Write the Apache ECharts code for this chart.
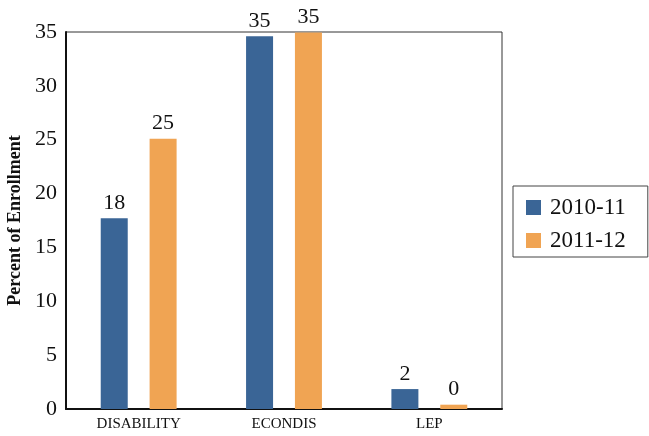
<!DOCTYPE html>
<html>
<head>
<meta charset="utf-8">
<script src="https://cdn.jsdelivr.net/npm/echarts@6/dist/echarts.min.js"></script>
<style>
  html, body { margin: 0; padding: 0; background: #fff; }
  #chart { width: 649px; height: 436px; }
</style>
</head>
<body>
<div id="chart"></div>
<script>
// values
var categories = ['DISABILITY', 'ECONDIS', 'LEP'];
var seriesNames = ['2010-11', '2011-12'];
var values2010 = [17.7, 34.6, 1.85];
var values2011 = [25.1, 34.95, 0.4];
var yTicks = [0, 5, 10, 15, 20, 25, 30, 35];

var serif = '"Liberation Serif", "DejaVu Serif", serif';
var colors = ['#3a6596', '#f0a453'];

function barSeries(name, data, color) {
  return {
    name: name,
    type: 'bar',
    data: data,
    barWidth: 27,
    barGap: '81%',
    itemStyle: { color: color },
    label: {
      show: true,
      position: 'top',
      distance: 4,
      color: '#111',
      fontFamily: serif,
      fontSize: 22,
      formatter: function (p) { return Math.round(p.value) }
    }
  }
}

var chart = echarts.init(document.getElementById('chart'));
chart.setOption({
  animation: false,
  grid: {
    left: 66, top: 32, right: 147, bottom: 27,
    outerBoundsMode: 'none',
    containLabel: false,
    show: true,
    borderColor: '#333',
    borderWidth: 1
  },
  legend: {
    orient: 'vertical',
    left: 513,
    top: 186,
    data: seriesNames,
    icon: 'rect',
    itemWidth: 15,
    itemHeight: 15,
    itemGap: 10,
    padding: [10, 22, 5, 13],
    borderColor: '#444',
    borderWidth: 1,
    textStyle: { fontFamily: serif, fontSize: 23, lineHeight: 20, color: '#111', padding: [0, 0, 0, 4] }
  },
  xAxis: {
    type: 'category',
    data: categories,
    axisLine: { lineStyle: { color: '#111', width: 2 } },
    axisTick: { show: false },
    axisLabel: { fontFamily: serif, fontSize: 15, color: '#111', margin: 8 }
  },
  yAxis: {
    type: 'value',
    min: yTicks[0],
    max: yTicks[yTicks.length - 1],
    interval: 5,
    name: 'Percent of Enrollment',
    nameLocation: 'middle',
    nameGap: 39,
    nameTextStyle: { fontFamily: serif, fontSize: 18, fontWeight: 'bold', color: '#111' },
    axisLine: { show: true, lineStyle: { color: '#111', width: 2 } },
    axisTick: { show: false },
    splitLine: { show: false },
    axisLabel: { fontFamily: serif, fontSize: 22, color: '#111', margin: 9 }
  },
  series: [
    barSeries(seriesNames[0], values2010, colors[0]),
    barSeries(seriesNames[1], values2011, colors[1])
  ]
});
</script>
</body>
</html>
